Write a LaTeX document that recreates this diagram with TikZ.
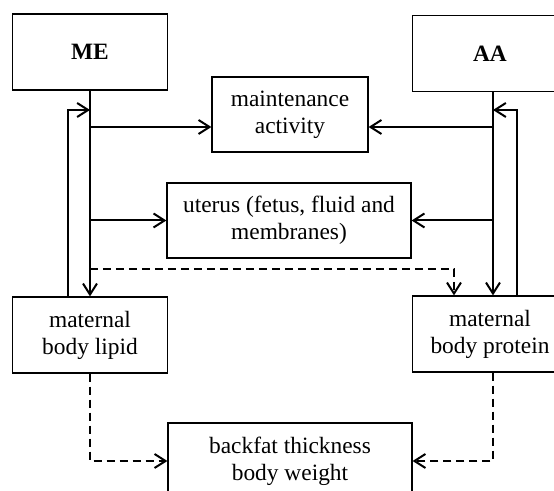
\documentclass[tikz,border=0pt]{standalone}
\usepackage{fontspec}
\setmainfont{Liberation Serif}
\usetikzlibrary{arrows.meta}

\begin{document}
\begin{tikzpicture}[x=0.5pt, y=-0.5pt, every node/.style={font=\fontsize{11.7}{13.5}\selectfont}, box/.style={draw,line width=0.6pt,align=center,inner sep=0pt,minimum width=77.5pt,minimum height=38pt}, wbox/.style={box,minimum width=122pt,minimum height=37.5pt}, arr/.style={-{Straight Barb[length=5.5pt,width=7pt,line width=1pt]},line width=1pt}, darr/.style={arr,line width=0.9pt,dash pattern=on 4pt off 2.5pt}]
\useasboundingbox (0,0) rectangle (554,491);
\clip (0,0) rectangle (554,491);
\node[box] (me) at (90,52) {\textbf{ME}};
\node[box] (aa) at (490,53.5) {\textbf{AA}};
\node[box,minimum width=78pt,minimum height=37.5pt] (maint) at (290,114.5) {maintenance\\activity};
\node[wbox] (uterus) at (289,220.5) {uterus (fetus, fluid and\\membranes)};
\node[box] (lipid) at (90,335) {maternal\\body lipid};
\node[box] (protein) at (490,334) {maternal\\body protein};
\node[wbox,minimum height=38pt] (backfat) at (290,461) {backfat thickness\\body weight};
% rows and shifted ends
\coordinate (mrow) at (0,127); \coordinate (frow) at (0,110); \coordinate (drow) at (0,269);
\coordinate (aatrunk) at ([xshift=1.5pt]aa.south); \coordinate (ptrunk) at ([xshift=1.5pt]protein.south);
\coordinate (lret) at ([xshift=-11pt]lipid.north); \coordinate (pret) at ([xshift=13.5pt]protein.north);
\coordinate (dtip) at ([xshift=-18pt]protein.north);
\draw[arr] (me.south) -- (lipid.north); \draw[arr] (aatrunk) -- (aatrunk |- protein.north);
\draw[arr] (me.south |- mrow) -- (maint.west |- mrow); \draw[arr] (aatrunk |- mrow) -- (maint.east |- mrow);
\draw[arr] (me.south |- uterus.west) -- (uterus.west); \draw[arr] (aatrunk |- uterus.east) -- (uterus.east);
\draw[arr] (lret) |- (me.south |- frow); \draw[arr] (pret) |- (aatrunk |- frow);
\draw[darr] (me.south |- drow) -| (dtip);
\draw[darr] (lipid.south) |- (backfat.west); \draw[darr] (ptrunk) |- (backfat.east);
\end{tikzpicture}
\end{document}
